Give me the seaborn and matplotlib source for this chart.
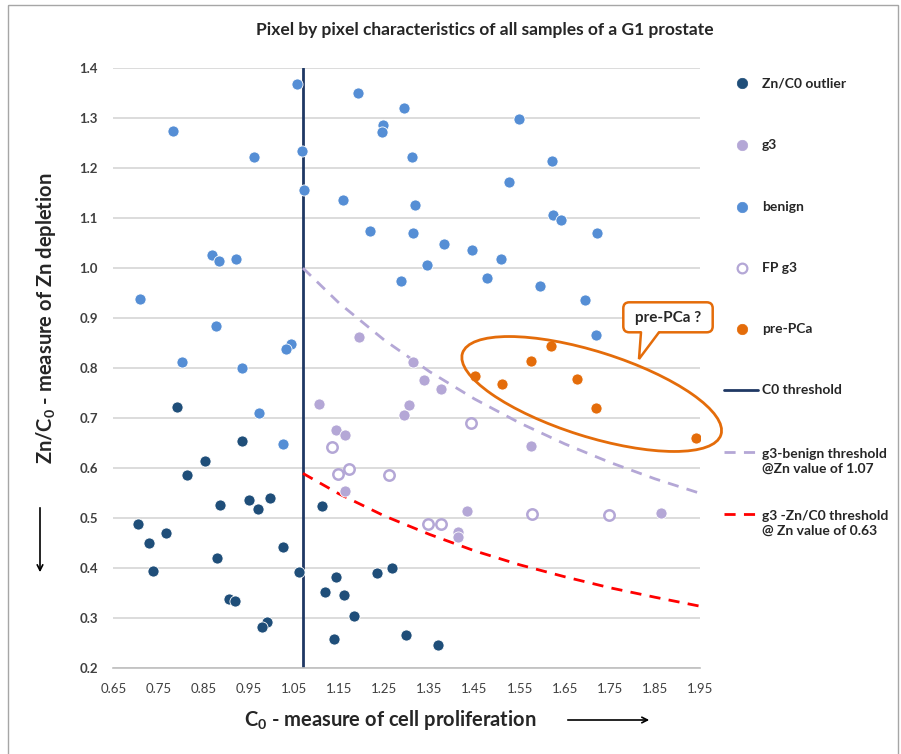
import numpy as np
import pandas as pd
import matplotlib
matplotlib.use("Agg")
import matplotlib.pyplot as plt
import seaborn as sns
from matplotlib.patches import Ellipse, FancyBboxPatch, Polygon, Rectangle

# Data
outlier_x = [0.791, 0.936, 0.853, 0.813, 0.951, 0.997, 0.970, 0.887, 0.705, 0.728,
             0.767, 1.025, 0.879, 0.739, 1.061, 0.906, 0.919, 0.991, 0.979, 1.113,
             1.144, 1.233, 1.267, 1.119, 1.161, 1.184, 1.138, 1.298, 1.368]
outlier_y = [0.721, 0.654, 0.613, 0.585, 0.536, 0.540, 0.518, 0.525, 0.488, 0.449,
             0.470, 0.442, 0.420, 0.393, 0.392, 0.338, 0.334, 0.291, 0.281, 0.523,
             0.382, 0.390, 0.400, 0.352, 0.346, 0.303, 0.257, 0.265, 0.245]

benign_x = [1.056, 0.783, 1.067, 0.962, 1.072, 0.869, 0.883, 0.922, 0.709, 0.878,
            1.043, 1.032, 0.802, 0.936, 0.973, 1.025, 1.191, 1.294, 1.247, 1.245,
            1.311, 1.159, 1.319, 1.527, 1.219, 1.314, 1.382, 1.444, 1.509, 1.345,
            1.288, 1.478, 1.549, 1.621, 1.624, 1.641, 1.721, 1.596, 1.694, 1.718]
benign_y = [1.369, 1.274, 1.235, 1.222, 1.156, 1.027, 1.014, 1.018, 0.939, 0.884,
            0.849, 0.838, 0.812, 0.800, 0.709, 0.648, 1.351, 1.320, 1.286, 1.272,
            1.223, 1.137, 1.126, 1.172, 1.075, 1.070, 1.049, 1.036, 1.018, 1.006,
            0.975, 0.980, 1.298, 1.214, 1.106, 1.096, 1.070, 0.964, 0.936, 0.866]

g3_x = [1.194, 1.314, 1.338, 1.376, 1.106, 1.305, 1.294, 1.143, 1.164, 1.163,
        1.433, 1.414, 1.414, 1.575, 1.862]
g3_y = [0.863, 0.813, 0.775, 0.758, 0.727, 0.725, 0.706, 0.675, 0.666, 0.554,
        0.514, 0.471, 0.462, 0.644, 0.510]

fp_x = [1.442, 1.135, 1.147, 1.173, 1.260, 1.347, 1.376, 1.578, 1.748]
fp_y = [0.689, 0.641, 0.588, 0.597, 0.586, 0.488, 0.488, 0.507, 0.506]

pre_x = [1.451, 1.510, 1.575, 1.619, 1.677, 1.718, 1.940]
pre_y = [0.784, 0.767, 0.815, 0.845, 0.778, 0.720, 0.660]

c0_threshold = 1.07

curve_x = [1.07, 1.15, 1.25, 1.35, 1.45, 1.55, 1.65, 1.75, 1.85, 1.95]
benign_thr_y = [1.000, 0.930, 0.856, 0.793, 0.738, 0.690, 0.648, 0.611, 0.578, 0.549]
red_thr_y = [0.589, 0.548, 0.504, 0.467, 0.434, 0.406, 0.382, 0.360, 0.341, 0.323]

x_ticks = [0.65, 0.75, 0.85, 0.95, 1.05, 1.15, 1.25, 1.35, 1.45, 1.55, 1.65, 1.75, 1.85, 1.95]
y_ticks = [0.2, 0.3, 0.4, 0.5, 0.6, 0.7, 0.8, 0.9, 1.0, 1.1, 1.2, 1.3, 1.4]

# Colours
C_OUT = "#1f4e79"
C_G3 = "#b4a7d6"
C_BEN = "#558ed5"
C_PRE = "#e46c0a"
C_C0 = "#1f3864"
C_RED = "#ff0000"

sns.set_style("white")
plt.rcParams["font.family"] = ["Lato", "DejaVu Sans"]
plt.rcParams["mathtext.fontset"] = "custom"
plt.rcParams["mathtext.rm"] = "Lato"
plt.rcParams["mathtext.it"] = "Lato:italic"
plt.rcParams["mathtext.bf"] = "Lato:bold"

W, H = 901, 754
fig = plt.figure(figsize=(W / 100, H / 100), dpi=100)
ax = fig.add_axes([113.3 / W, (H - 667.7) / H, (700.3 - 113.3) / W, (667.7 - 68.3) / H])

ax.yaxis.grid(True, color="#d9d9d9", linewidth=1.3)
ax.xaxis.grid(False)
ax.set_axisbelow(True)

kw = dict(s=64, linewidth=0.6, edgecolor="white", ax=ax, legend=False, zorder=3)
sns.scatterplot(x=outlier_x, y=outlier_y, color=C_OUT, **kw)
sns.scatterplot(x=benign_x, y=benign_y, color=C_BEN, **kw)
sns.scatterplot(x=g3_x, y=g3_y, color=C_G3, **kw)
sns.scatterplot(x=pre_x, y=pre_y, color=C_PRE, **kw)
ax.scatter(fp_x, fp_y, s=56, facecolor="white", edgecolor=C_G3, linewidth=1.8, zorder=3)

ax.axvline(c0_threshold, color=C_C0, linewidth=2, zorder=2)
sns.lineplot(x=curve_x, y=benign_thr_y, color=C_G3, linewidth=2, linestyle=(0, (4, 3)),
             estimator=None, sort=False, ax=ax, zorder=2)
sns.lineplot(x=curve_x, y=red_thr_y, color=C_RED, linewidth=2, linestyle=(0, (4, 3)),
             estimator=None, sort=False, ax=ax, zorder=2)

ax.set_xlim(0.65, 1.95)
ax.set_ylim(0.2, 1.4)
ax.set_xticks(x_ticks)
ax.set_xticklabels([f"{v:.2f}" for v in x_ticks], fontsize=9.5)
ax.set_yticks(y_ticks)
ax.set_yticklabels([f"{v:.1f}" for v in y_ticks], fontsize=9.5, fontweight="bold")
for side in ["left", "top", "right"]:
    ax.spines[side].set_visible(False)
ax.spines["bottom"].set_color("#bfbfbf")
ax.spines["bottom"].set_linewidth(1.2)
ax.tick_params(axis="x", direction="out", length=5, color="#bfbfbf", pad=6, labelcolor="#404040")
ax.tick_params(axis="y", length=0, pad=11, labelcolor="#404040")
ax.set_xlabel("")
ax.set_ylabel("")

# Overlay in pixel coordinates for annotations
ov = fig.add_axes([0, 0, 1, 1])
ov.set_xlim(0, W)
ov.set_ylim(H, 0)
ov.axis("off")

ov.add_patch(Rectangle((8, 5), 890, 760, fill=False, edgecolor="#a6a6a6", linewidth=1))

fig.text(485 / W, 1 - 30 / H, "Pixel by pixel characteristics of all samples of a G1 prostate",
         ha="center", va="center", fontsize=12.5, fontweight="bold")
ov.text(390, 720, r"C$_\mathbf{0}$ - measure of cell proliferation", ha="center", va="center",
        fontsize=14.5, fontweight="bold")
ov.text(46, 318, r"Zn/C$_\mathbf{0}$ - measure of Zn depletion", ha="center", va="center",
        fontsize=14.5, fontweight="bold", rotation=90)
ov.annotate("", xy=(652, 720), xytext=(565, 720),
            arrowprops=dict(arrowstyle="->", color="black", lw=1.2))
ov.annotate("", xy=(40, 575), xytext=(40, 505),
            arrowprops=dict(arrowstyle="->", color="black", lw=1.2))

# pre-PCa ellipse and callout
ov.add_patch(Ellipse((591.7, 394), 271, 85, angle=17.5, fill=False, edgecolor=C_PRE, linewidth=2))
ov.add_patch(FancyBboxPatch((623.3, 302.3), 89.4, 30, boxstyle="round,pad=0,rounding_size=6",
                            facecolor="white", edgecolor=C_PRE, linewidth=1.8))
ov.add_patch(Polygon([(641, 331), (659, 331), (639, 359)], closed=True, facecolor="white",
                     edgecolor="none"))
ov.plot([641, 639, 659], [332.3, 359, 332.3], color=C_PRE, linewidth=1.8, solid_joinstyle="miter")
ov.text(668, 318, "pre-PCa ?", ha="center", va="center", fontsize=11, fontweight="bold")

# Legend
lx, tx = 741.7, 761.7
marker_rows = [("Zn/C0 outlier", 83.3, C_OUT, C_OUT),
               ("g3", 145, C_G3, C_G3),
               ("benign", 206.7, C_BEN, C_BEN),
               ("FP g3", 268.3, "white", C_G3),
               ("pre-PCa", 329.3, C_PRE, C_PRE)]
for label, y, fc, ec in marker_rows:
    ov.plot([lx], [y], marker="o", markersize=7.5 if fc != "white" else 7,
            markerfacecolor=fc, markeredgecolor=ec, markeredgewidth=1.6 if fc == "white" else 0.5)
    ov.text(tx, y, label, ha="left", va="center", fontsize=10, fontweight="bold")

ov.plot([724, 758], [390, 390], color=C_C0, linewidth=2)
ov.text(tx, 390, "C0 threshold", ha="left", va="center", fontsize=10, fontweight="bold")
ov.plot([724, 758], [452, 452], color=C_G3, linewidth=2, linestyle=(0, (4, 3)))
ov.text(tx, 461, "g3-benign threshold\n@Zn value of 1.07", ha="left", va="center",
        fontsize=10, fontweight="bold", linespacing=1.3)
ov.plot([724, 758], [513.5, 513.5], color=C_RED, linewidth=2, linestyle=(0, (4, 3)))
ov.text(tx, 523, "g3 -Zn/C0 threshold\n@ Zn value of 0.63", ha="left", va="center",
        fontsize=10, fontweight="bold", linespacing=1.3)

fig.savefig("out.png", dpi=100)
